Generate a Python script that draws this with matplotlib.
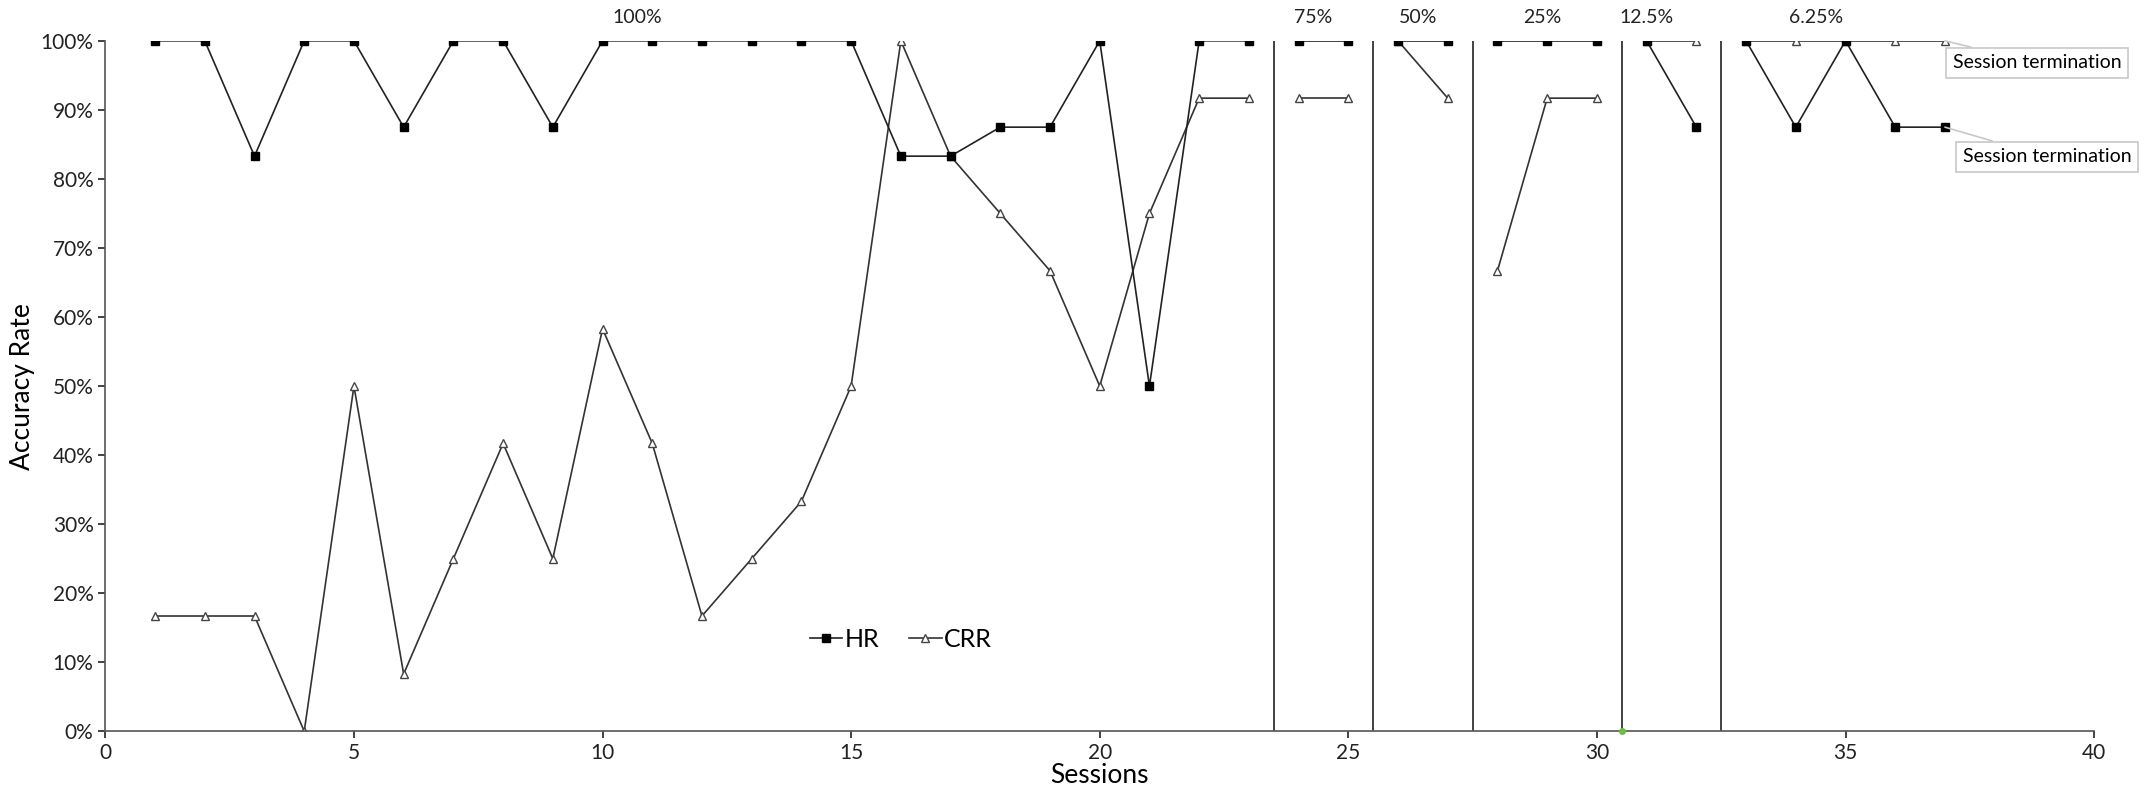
import numpy as np
import matplotlib.pyplot as plt
from matplotlib.ticker import PercentFormatter

plt.rcParams['font.family'] = ['Lato', 'DejaVu Sans']

# sessions per phase (phase name, sessions)
phase_names = ['100%', '75%', '50%', '25%', '12.5%', '6.25%']
phase_sessions = [list(range(1, 24)), [24, 25], [26, 27], [28, 29, 30], [31, 32],
                  [33, 34, 35, 36, 37]]
phase_label_x = [10.7, 24.3, 26.4, 28.9, 31.0, 34.4]
phase_lines = [23.5, 25.5, 27.5, 30.5, 32.5]

hr = [[100, 100, 83.3, 100, 100, 87.5, 100, 100, 87.5, 100, 100, 100, 100, 100, 100,
       83.3, 83.3, 87.5, 87.5, 100, 50, 100, 100],
      [100, 100],
      [100, 100],
      [100, 100, 100],
      [100, 87.5],
      [100, 87.5, 100, 87.5, 87.5]]
crr = [[16.7, 16.7, 16.7, 0, 50, 8.3, 25, 41.7, 25, 58.3, 41.7, 16.7, 25, 33.3, 50,
        100, 83.3, 75, 66.7, 50, 75, 91.7, 91.7],
       [91.7, 91.7],
       [100, 91.7],
       [66.7, 91.7, 91.7],
       [100, 100],
       [100, 100, 100, 100, 100]]

fig = plt.figure(figsize=(21.5, 8.01), dpi=100)
ax = fig.add_axes([0.049, 0.087, 0.925, 0.862])

for i in range(len(phase_sessions)):
    x = phase_sessions[i]
    l1, = ax.plot(x, np.array(hr[i]) / 100, color='#222222', lw=1.2, marker='s',
                  ms=6, mfc='black', mec='black', zorder=3)
    l2, = ax.plot(x, np.array(crr[i]) / 100, color='#333333', lw=1.2, marker='^',
                  ms=6, mfc='white', mec='#444444', mew=1, zorder=2)
    ax.text(phase_label_x[i], 1.022, phase_names[i], ha='center', va='bottom',
            fontsize=14, color='#222222')
    if i == 0:
        l1.set_label('HR')
        l2.set_label('CRR')

for xv in phase_lines:
    ax.plot([xv, xv], [0, 1], color='#222222', lw=1.2, zorder=1)

ax.plot([30.5], [0], marker='o', ms=4, color='#6cbf3f', zorder=5, clip_on=False)

box = dict(boxstyle='square,pad=0.35', fc='white', ec='#c8c8c8', lw=1.2)
arrow = dict(arrowstyle='-', color='#c8c8c8', lw=1.2, shrinkA=0, shrinkB=0)
ax.annotate('Session termination', xy=(37, 1.0), xytext=(38.85, 0.968), fontsize=14,
            ha='center', va='center', bbox=box, arrowprops=arrow, annotation_clip=False)
ax.annotate('Session termination', xy=(37, 0.875), xytext=(39.05, 0.832), fontsize=14,
            ha='center', va='center', bbox=box, arrowprops=arrow, annotation_clip=False)

ax.set_xlim(0, 40)
ax.set_ylim(0, 1)
ax.set_xticks(np.arange(0, 41, 5))
ax.set_yticks(np.arange(0, 1.01, 0.1))
ax.yaxis.set_major_formatter(PercentFormatter(1.0, decimals=0))
ax.tick_params(labelsize=15, colors='#222222', length=5, width=1.2)
ax.spines['top'].set_visible(False)
ax.spines['right'].set_visible(False)
for s in ['left', 'bottom']:
    ax.spines[s].set_color('#555555')
    ax.spines[s].set_linewidth(1.2)

ax.set_xlabel('Sessions', fontsize=19, labelpad=0)
ax.set_ylabel('Accuracy Rate', fontsize=19, labelpad=4)

ax.legend(loc='center', bbox_to_anchor=(16.0 / 40, 0.133), ncol=2, frameon=False,
          fontsize=18, handlelength=1.3, handletextpad=0.1, columnspacing=1.2)

fig.savefig('out.png', dpi=100)
